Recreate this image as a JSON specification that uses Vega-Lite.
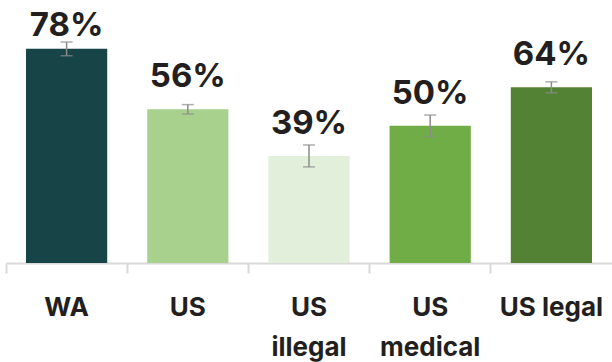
{
  "$schema": "https://vega.github.io/schema/vega-lite/v6.json",
  "width": 606,
  "height": 263,
  "autosize": {"type": "none"},
  "padding": {"left": 6, "right": 0, "top": 0, "bottom": 99},
  "background": "white",
  "config": {"view": {"stroke": null}, "font": "Inter"},
  "data": {
    "values": [
      {"group": "WA", "value": 0.78, "lower": 0.755, "upper": 0.805},
      {"group": "US", "value": 0.56, "lower": 0.543, "upper": 0.577},
      {"group": "US illegal", "value": 0.39, "lower": 0.35, "upper": 0.43},
      {"group": "US medical", "value": 0.50, "lower": 0.461, "upper": 0.539},
      {"group": "US legal", "value": 0.64, "lower": 0.62, "upper": 0.66}
    ]
  },
  "encoding": {
    "x": {
      "field": "group",
      "type": "nominal",
      "sort": null,
      "scale": {"paddingInner": 0, "paddingOuter": 0},
      "axis": {
        "title": null,
        "labelAngle": 0,
        "bandPosition": 0,
        "domainColor": "#d9d9d9",
        "domainWidth": 2,
        "tickColor": "#d9d9d9",
        "tickWidth": 2,
        "tickSize": 10,
        "labelPadding": 42,
        "labelBaseline": "alphabetic",
        "labelFontSize": 26,
        "labelFontWeight": "bold",
        "labelColor": "#231f20",
        "labelLineHeight": 40,
        "labelExpr": "datum.value == 'US legal' ? datum.value : split(datum.value, ' ')"
      }
    }
  },
  "layer": [
    {
      "mark": {"type": "bar", "width": {"band": 0.67}},
      "encoding": {
        "y": {
          "field": "value",
          "type": "quantitative",
          "scale": {"domain": [0, 0.958], "nice": false, "zero": true},
          "axis": null
        },
        "color": {
          "field": "group",
          "type": "nominal",
          "sort": null,
          "scale": {
            "domain": ["WA", "US", "US illegal", "US medical", "US legal"],
            "range": ["#174446", "#a9d18e", "#e2efda", "#70ad47", "#548235"]
          },
          "legend": null
        }
      }
    },
    {
      "mark": {
        "type": "errorbar",
        "color": "#8c8c8c",
        "thickness": 1.5,
        "ticks": {"color": "#8c8c8c", "size": 12, "thickness": 1.5}
      },
      "encoding": {
        "y": {"field": "lower", "type": "quantitative"},
        "y2": {"field": "upper"}
      }
    },
    {
      "transform": [{"calculate": "min(datum.value, 0.748)", "as": "label_at"}],
      "mark": {
        "type": "text",
        "dy": -22,
        "baseline": "alphabetic",
        "fontSize": 33,
        "fontWeight": "bold",
        "color": "#231f20"
      },
      "encoding": {
        "y": {"field": "label_at", "type": "quantitative"},
        "text": {"field": "value", "type": "quantitative", "format": ".0%"}
      }
    }
  ]
}
